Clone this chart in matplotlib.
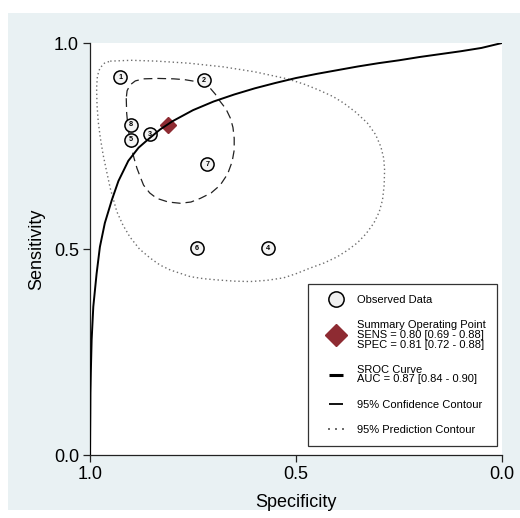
"""SROC plot: observed studies, summary point, SROC curve and 95% contours."""
import matplotlib
matplotlib.use("Agg")
import matplotlib.pyplot as plt
from matplotlib.lines import Line2D
from matplotlib.patches import Rectangle
from matplotlib.path import Path

plt.rcParams["font.family"] = ["Liberation Sans", "DejaVu Sans"]

BG = "#E9F1F3"
RED = "#8E2B32"
GREY = "#6E6E6E"

# observed studies (specificity, sensitivity)
STUDY_IDS = ["1", "2", "3", "4", "5", "6", "7", "8"]
STUDY_SPEC = [0.927, 0.723, 0.854, 0.567, 0.900, 0.740, 0.715, 0.900]
STUDY_SENS = [0.917, 0.910, 0.779, 0.502, 0.765, 0.502, 0.706, 0.801]

SUMMARY_SPEC = 0.81
SUMMARY_SENS = 0.80

# SROC curve
SROC_SPEC = [1.000, 0.9997, 0.9993, 0.999, 0.998, 0.997, 0.996, 0.992, 0.988,
             0.984, 0.976, 0.964, 0.947, 0.931, 0.907, 0.882, 0.859, 0.830,
             0.800, 0.750, 0.700, 0.650, 0.600, 0.550, 0.500, 0.450, 0.400,
             0.350, 0.300, 0.250, 0.200, 0.150, 0.100, 0.050, 0.000]
SROC_SENS = [0.000, 0.050, 0.100, 0.150, 0.200, 0.240, 0.280, 0.360, 0.400,
             0.440, 0.505, 0.563, 0.619, 0.665, 0.714, 0.746, 0.766, 0.790,
             0.810, 0.837, 0.858, 0.875, 0.890, 0.903, 0.915, 0.925, 0.934,
             0.943, 0.951, 0.958, 0.966, 0.973, 0.980, 0.988, 1.000]

# 95% confidence contour
CONF_SPEC = [0.912, 0.911, 0.909, 0.905, 0.899, 0.893, 0.886, 0.878, 0.870,
             0.855, 0.838, 0.810, 0.781, 0.755, 0.732, 0.706, 0.684, 0.666,
             0.655, 0.650, 0.650, 0.653, 0.659, 0.670, 0.684, 0.696, 0.708,
             0.722, 0.740, 0.770, 0.797, 0.835, 0.870, 0.890, 0.903, 0.910,
             0.912]
CONF_SENS = [0.866, 0.830, 0.809, 0.776, 0.744, 0.720, 0.696, 0.675, 0.655,
             0.636, 0.623, 0.614, 0.611, 0.614, 0.623, 0.636, 0.655, 0.682,
             0.712, 0.740, 0.769, 0.795, 0.817, 0.840, 0.858, 0.876, 0.890,
             0.900, 0.906, 0.911, 0.913, 0.914, 0.913, 0.908, 0.898, 0.884,
             0.866]

# 95% prediction contour
PRED_SPEC = [0.951, 0.900, 0.838, 0.760, 0.676, 0.600, 0.521, 0.480, 0.445,
             0.410, 0.384, 0.355, 0.327, 0.307, 0.294, 0.287, 0.285, 0.286,
             0.290, 0.298, 0.311, 0.330, 0.351, 0.375, 0.400, 0.432, 0.465,
             0.500, 0.530, 0.570, 0.611, 0.650, 0.692, 0.725, 0.757, 0.805,
             0.830, 0.854, 0.880, 0.903, 0.920, 0.935, 0.951, 0.960, 0.968,
             0.975, 0.980, 0.983, 0.984, 0.982, 0.976, 0.965, 0.951]
PRED_SENS = [0.956, 0.958, 0.956, 0.951, 0.942, 0.930, 0.913, 0.900, 0.886,
             0.870, 0.854, 0.832, 0.806, 0.778, 0.748, 0.720, 0.692, 0.655,
             0.619, 0.590, 0.563, 0.537, 0.515, 0.497, 0.481, 0.466, 0.454,
             0.440, 0.430, 0.424, 0.421, 0.422, 0.425, 0.428, 0.433, 0.449,
             0.461, 0.478, 0.500, 0.529, 0.558, 0.591, 0.648, 0.690, 0.728,
             0.770, 0.809, 0.850, 0.891, 0.920, 0.939, 0.951, 0.956]

LEGEND_LABELS = [
    "Observed Data",
    "Summary Operating Point\nSENS = 0.80 [0.69 - 0.88]\nSPEC = 0.81 [0.72 - 0.88]",
    "SROC Curve\nAUC = 0.87 [0.84 - 0.90]",
    "95% Confidence Contour",
    "95% Prediction Contour",
]


def three_dots():
    s = 0.13
    verts, codes = [], []
    for cx in (-1.0, 0.0, 1.0):
        verts += [(cx - s, -s), (cx + s, -s), (cx + s, s), (cx - s, s),
                  (cx - s, -s)]
        codes += [Path.MOVETO, Path.LINETO, Path.LINETO, Path.LINETO,
                  Path.CLOSEPOLY]
    return Path(verts, codes)


fig = plt.figure(figsize=(5.2, 5.18), dpi=100)
fig.patch.set_facecolor("white")
fig.patches.append(Rectangle((8 / 520, 8 / 518), 1 - 8 / 520, (518 - 21) / 518,
                             transform=fig.transFigure, facecolor=BG,
                             edgecolor="none", zorder=-10))

ax = fig.add_axes([90 / 520, 63 / 518, 412 / 520, 412 / 518])
ax.set_facecolor("white")
ax.set_xlim(1.0, 0.0)
ax.set_ylim(0.0, 1.0)
for side in ("top", "right"):
    ax.spines[side].set_visible(False)
for side in ("left", "bottom"):
    ax.spines[side].set_linewidth(0.9)
    ax.spines[side].set_color("#222222")
ax.set_xticks([1.0, 0.5, 0.0])
ax.set_yticks([0.0, 0.5, 1.0])
ax.set_xticklabels(["1.0", "0.5", "0.0"])
ax.set_yticklabels(["0.0", "0.5", "1.0"])
ax.tick_params(direction="out", length=5, width=0.9, labelsize=13,
               color="#222222", pad=3)
ax.set_xlabel("Specificity", fontsize=13, labelpad=8)
ax.set_ylabel("Sensitivity", fontsize=13, labelpad=6)

# contours
ax.plot(PRED_SPEC, PRED_SENS, color=GREY, lw=1.0, ls=(0, (1, 2)), zorder=2)
ax.plot(CONF_SPEC, CONF_SENS, color="#222222", lw=0.9, ls=(0, (7, 4)), zorder=2)

# studies
ax.scatter(STUDY_SPEC, STUDY_SENS, s=90, facecolor="#F4F4F4",
           edgecolor="black", linewidth=1.1, zorder=3)
for sid, x, y in zip(STUDY_IDS, STUDY_SPEC, STUDY_SENS):
    ax.text(x, y, sid, ha="center", va="center", fontsize=5.2,
            fontweight="bold", zorder=4)

ax.plot([SUMMARY_SPEC], [SUMMARY_SENS], marker="D", ms=8.5, color=RED,
        mec=RED, ls="none", zorder=5)

# SROC curve on top
ax.plot(SROC_SPEC, SROC_SENS, color="black", lw=1.4, zorder=6,
        solid_joinstyle="round")

handles = [
    Line2D([], [], marker="o", ls="none", ms=11, mfc="#F0F0F0", mec="black",
           mew=1.1),
    Line2D([], [], marker="D", ls="none", ms=11, color=RED),
    Line2D([], [], marker="_", ls="none", ms=10, mew=2.2, color="black"),
    Line2D([], [], marker="_", ls="none", ms=10, mew=1.3, color="black"),
    Line2D([], [], marker=three_dots(), ls="none", ms=11, mew=0,
           color=GREY),
]
leg = ax.legend(handles, LEGEND_LABELS, loc="lower right",
                bbox_to_anchor=(0.988, 0.022), fontsize=8, frameon=True,
                fancybox=False, edgecolor="black", handlelength=2.9,
                handletextpad=0.5, labelspacing=1.37, borderpad=1.0,
                borderaxespad=0)
leg.get_frame().set_linewidth(0.9)
for t in leg.get_texts():
    t.set_linespacing(0.95)

fig.savefig("out.png", dpi=100)
